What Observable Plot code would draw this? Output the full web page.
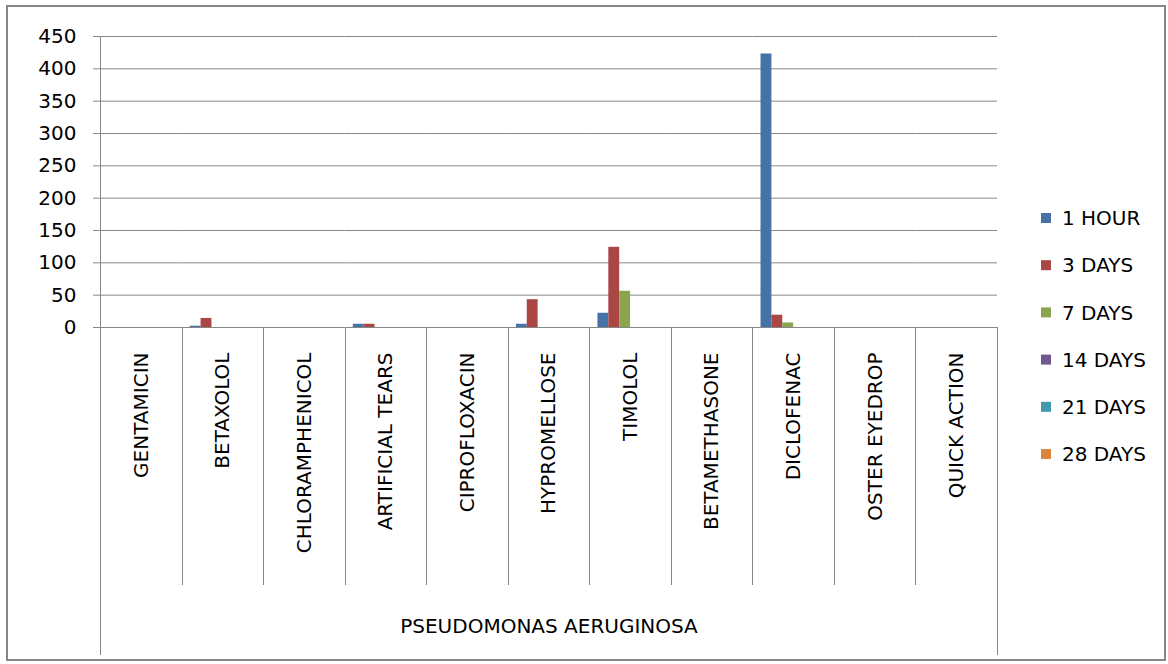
<!DOCTYPE html>
<html>
<head>
<meta charset="utf-8">
<script src="https://cdn.jsdelivr.net/npm/d3@7"></script>
<script src="https://cdn.jsdelivr.net/npm/@observablehq/plot@0.6"></script>
<style>
  body { margin: 0; background: #fff; }
  #chart svg { display: block; }
</style>
</head>
<body>
<div id="chart"></div>
<script>
// Eye-drop preparations tested against Pseudomonas aeruginosa
const drugs = [
  "GENTAMICIN", "BETAXOLOL", "CHLORAMPHENICOL", "ARTIFICIAL TEARS", "CIPROFLOXACIN",
  "HYPROMELLOSE", "TIMOLOL", "BETAMETHASONE", "DICLOFENAC", "OSTER EYEDROP", "QUICK ACTION"
];
const periods = ["1 HOUR", "3 DAYS", "7 DAYS", "14 DAYS", "21 DAYS", "28 DAYS"];

// Counts per drug, one array per time point (same order as drugs)
const oneHour   = [0, 2, 0, 5, 0, 5, 22, 0, 423, 0, 0];
const threeDays = [0, 14, 0, 5, 0, 43, 124, 0, 19, 0, 0];
const sevenDays = [0, 0, 0, 0, 0, 0, 56, 0, 7, 0, 0];
const fourteenDays   = [0, 0, 0, 0, 0, 0, 0, 0, 0, 0, 0];
const twentyOneDays  = [0, 0, 0, 0, 0, 0, 0, 0, 0, 0, 0];
const twentyEightDays = [0, 0, 0, 0, 0, 0, 0, 0, 0, 0, 0];

const yTicks = [0, 50, 100, 150, 200, 250, 300, 350, 400, 450];
const groupLabel = "PSEUDOMONAS AERUGINOSA";
const colors = ["#4572A7", "#AA4643", "#89A54E", "#71588F", "#4198AF", "#DB843D"];

const series = [oneHour, threeDays, sevenDays, fourteenDays, twentyOneDays, twentyEightDays];
const rows = drugs.flatMap((drug, i) =>
  periods.map((period, j) => ({ drug, period, value: series[j][i] }))
);

const gray = "#868686";
const font = "DejaVu Sans";

const chart = Plot.plot({
  width: 1168,
  height: 664,
  marginLeft: 100,
  marginRight: 171,
  marginTop: 36,
  marginBottom: 337,
  style: { fontFamily: font, fontSize: "20px", color: "#000", background: "#fff", overflow: "visible" },
  fx: { domain: drugs, padding: 0, round: false },
  x: { domain: periods, paddingInner: 0, paddingOuter: 0.75, round: false, axis: null },
  y: { domain: [0, 450], axis: null },
  color: { domain: periods, range: colors },
  marks: [
    Plot.gridY({ ticks: yTicks, stroke: gray, strokeOpacity: 1 }),
    Plot.axisY({ ticks: yTicks, label: null, tickSize: 7, tickPadding: 17, stroke: gray, strokeOpacity: 1, fontSize: 20 }),
    Plot.axisFx({
      anchor: "bottom", tickRotate: -90, tickSize: 0, tickPadding: 25, fontSize: 20,
      label: groupLabel, labelAnchor: "center", labelOffset: 305
    }),
    Plot.barY(rows, { fx: "drug", x: "period", y: "value", fill: "period" })
  ]
});

document.getElementById("chart").appendChild(chart);

// Category separators, axis lines, outer border and the legend
const svg = d3.select(chart);
const fxScale = chart.scale("fx");
const yScale = chart.scale("y");
const baseY = yScale.apply(0);
const topY = yScale.apply(450);
const leftX = fxScale.apply(drugs[0]);
const rightX = fxScale.apply(drugs[drugs.length - 1]) + fxScale.bandwidth;

const deco = svg.append("g").attr("stroke", gray).attr("stroke-width", 1).attr("shape-rendering", "crispEdges");
drugs.slice(1).forEach(d => {
  const x = Math.round(fxScale.apply(d)) + 0.5;
  deco.append("line").attr("x1", x).attr("x2", x).attr("y1", baseY).attr("y2", 585);
});
deco.append("line").attr("x1", Math.round(leftX) + 0.5).attr("x2", Math.round(leftX) + 0.5).attr("y1", topY).attr("y2", 655);
deco.append("line").attr("x1", Math.round(rightX) + 0.5).attr("x2", Math.round(rightX) + 0.5).attr("y1", baseY).attr("y2", 655);

svg.append("rect")
  .attr("x", 7).attr("y", 6).attr("width", 1158).attr("height", 654)
  .attr("fill", "none").attr("stroke", gray).attr("stroke-width", 2);

const colorScale = chart.scale("color");
const legend = svg.append("g").attr("font-family", font).attr("font-size", 20).attr("text-anchor", "start");
periods.forEach((p, i) => {
  const cy = 218 + i * 47.2;
  legend.append("rect").attr("x", 1041).attr("y", cy - 5).attr("width", 10).attr("height", 10).attr("fill", colorScale.apply(p));
  legend.append("text").attr("x", 1062).attr("y", cy).attr("dy", "0.36em").attr("fill", "#000").text(p);
});
</script>
</body>
</html>
